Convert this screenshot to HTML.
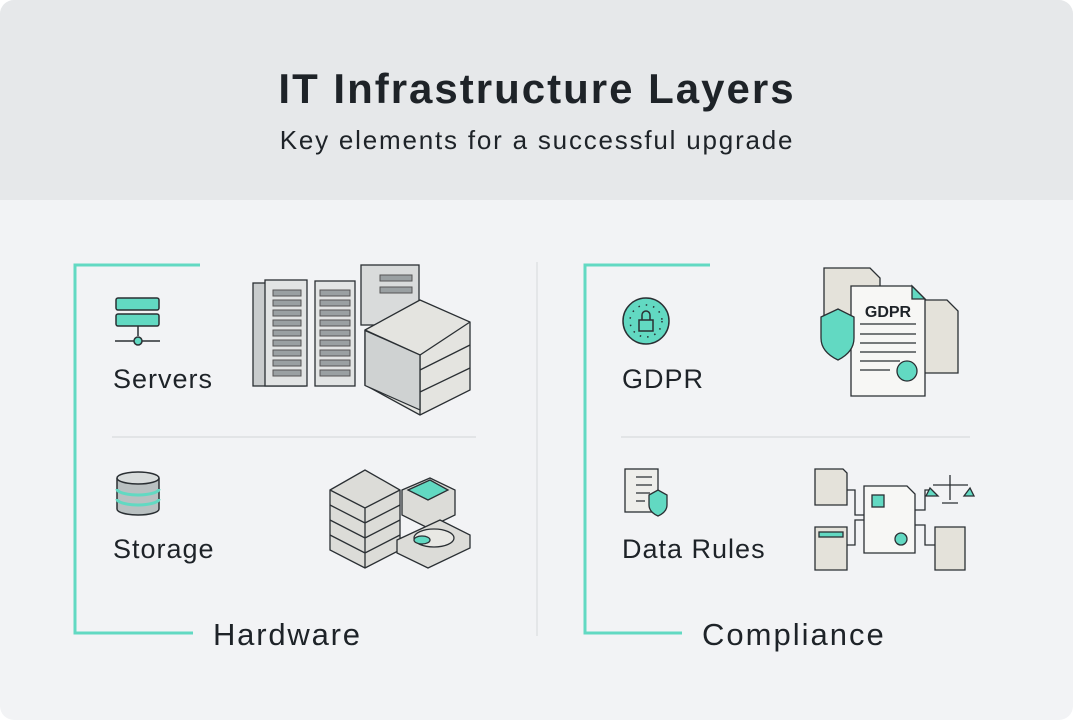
<!DOCTYPE html>
<html><head><meta charset="utf-8"><style>
html,body{margin:0;padding:0;background:#fff}
body{width:1073px;height:720px;overflow:hidden;font-family:"Liberation Sans",sans-serif}
</style></head><body>
<svg width="1073" height="720" viewBox="0 0 1073 720" xmlns="http://www.w3.org/2000/svg" font-family="Liberation Sans, sans-serif">
<defs><clipPath id="c"><rect width="1073" height="720" rx="14"/></clipPath></defs>
<g clip-path="url(#c)">
<rect width="1073" height="720" fill="#f2f3f5"/>
<rect width="1073" height="200" fill="#e6e8ea"/>
</g>
<text x="537" y="103" text-anchor="middle" font-size="42" font-weight="bold" letter-spacing="2" fill="#1e2328">IT Infrastructure Layers</text>
<text x="537" y="149" text-anchor="middle" font-size="26" letter-spacing="1.8" fill="#1e2328">Key elements for a successful upgrade</text>

<g stroke="#62d9c2" stroke-width="3" fill="none">
<path d="M200 265 H75 V633 H193"/>
<path d="M710 265 H585 V633 H682"/>
</g>
<line x1="537" y1="262" x2="537" y2="636" stroke="#dfe1e4" stroke-width="1.5"/>
<line x1="112" y1="437" x2="476" y2="437" stroke="#dcdfe2" stroke-width="1.5"/>
<line x1="621" y1="437" x2="970" y2="437" stroke="#dcdfe2" stroke-width="1.5"/>

<g font-size="27" fill="#1e2328" letter-spacing="1">
<text x="113" y="388">Servers</text>
<text x="113" y="558">Storage</text>
<text x="622" y="388">GDPR</text>
<text x="622" y="558">Data Rules</text>
</g>
<text x="213" y="645" font-size="31" letter-spacing="1.8" fill="#1e2328">Hardware</text>
<text x="702" y="645" font-size="31" letter-spacing="2" fill="#1e2328">Compliance</text>

<g stroke="#2a2f33" stroke-width="1.5">
<rect x="116" y="298" width="43" height="12" rx="2" fill="#62d9c2"/>
<rect x="116" y="314" width="43" height="12" rx="2" fill="#62d9c2"/>
<line x1="138" y1="326" x2="138" y2="336"/>
<line x1="115" y1="341" x2="160" y2="341"/>
<circle cx="138" cy="341" r="4" fill="#62d9c2"/>
</g>
<g stroke="#2a2f33" stroke-width="1.5">
<path d="M117 478 V509 A21 6 0 0 0 159 509 V478" fill="#b9c0c1"/>
<ellipse cx="138" cy="478" rx="21" ry="6" fill="#d8dcdc"/>
<path d="M117 489 A21 6 0 0 0 159 489 M117 499 A21 6 0 0 0 159 499" fill="none" stroke="#62d9c2" stroke-width="3"/>
</g>

<g stroke="#2a2f33" stroke-width="1.3">
<rect x="253" y="283" width="52" height="103" fill="#c9cccd"/>
<rect x="265" y="280" width="42" height="106" fill="#e2e4e4"/>
<rect x="315" y="281" width="40" height="105" fill="#e2e4e4"/>
<rect x="361" y="265" width="58" height="60" fill="#d9dbdb"/>
<path d="M365 330 L420 300 L470 322 L470 390 L420 415 L365 385 Z" fill="#e4e4e0"/>
<path d="M365 330 L420 355 L470 322 M420 355 V415 M420 370 L470 345 M420 392 L470 368" fill="none"/>
<rect x="365" y="330" width="55" height="55" fill="#cfd2d2" transform="skewY(24) translate(0,-162)"/>
</g>
<g stroke="#555" stroke-width="1" fill="#9aa0a2">
<rect x="273" y="290" width="28" height="6"/><rect x="273" y="300" width="28" height="6"/><rect x="273" y="310" width="28" height="6"/><rect x="273" y="320" width="28" height="6"/><rect x="273" y="330" width="28" height="6"/><rect x="273" y="340" width="28" height="6"/><rect x="273" y="350" width="28" height="6"/><rect x="273" y="360" width="28" height="6"/><rect x="273" y="370" width="28" height="6"/>
<rect x="320" y="290" width="30" height="6"/><rect x="320" y="300" width="30" height="6"/><rect x="320" y="310" width="30" height="6"/><rect x="320" y="320" width="30" height="6"/><rect x="320" y="330" width="30" height="6"/><rect x="320" y="340" width="30" height="6"/><rect x="320" y="350" width="30" height="6"/><rect x="320" y="360" width="30" height="6"/><rect x="320" y="370" width="30" height="6"/>
<rect x="380" y="275" width="32" height="6"/><rect x="380" y="287" width="32" height="6"/>
</g>

<g stroke="#2a2f33" stroke-width="1.3">
<path d="M330 490 L365 470 L400 490 V550 L365 568 L330 550 Z" fill="#dcdcd8"/>
<path d="M330 490 L365 508 L400 490 M365 508 V568 M330 505 L365 523 L400 505 M330 520 L365 538 L400 520 M330 535 L365 553 L400 535" fill="none"/>
<path d="M402 490 L430 478 L455 490 V515 L428 528 L402 515 Z" fill="#dcdcd8"/>
<path d="M408 490 L430 480 L448 490 L428 500 Z" fill="#62d9c2"/>
<path d="M397 540 L440 520 L470 535 V548 L428 568 L397 553 Z" fill="#dcdcd8"/>
<ellipse cx="434" cy="538" rx="20" ry="9" fill="#e8e8e4"/>
<ellipse cx="422" cy="540" rx="8" ry="4" fill="#62d9c2"/>
</g>

<circle cx="646" cy="321" r="23" fill="#62d9c2" stroke="#2a2f33" stroke-width="1.5"/>
<circle cx="646" cy="321" r="16" fill="none" stroke="#2a2f33" stroke-width="1.5" stroke-dasharray="1.5 6"/>
<rect x="639" y="320" width="14" height="11" fill="#62d9c2" stroke="#2a2f33" stroke-width="1.5"/>
<path d="M642 320 V315 A4 4 0 0 1 650 315 V320" fill="none" stroke="#2a2f33" stroke-width="1.5"/>

<g stroke="#2a2f33" stroke-width="1.3">
<path d="M824 268 H870 L880 278 V328 H824 Z" fill="#e4e2da"/>
<path d="M903 300 H947 L958 311 V373 H903 Z" fill="#e4e2da"/>
<path d="M851 286 H912 L925 299 V396 H851 Z" fill="#f7f7f5"/>
<path d="M912 286 L925 299 H912 Z" fill="#62d9c2"/>
<path d="M860 324 H916 M860 334 H916 M860 343 H916 M860 352 H916 M860 361 H900 M860 370 H890" fill="none"/>
<path d="M821 317 L838 309 L854 317 V338 Q854 352 838 360 Q821 352 821 338 Z" fill="#62d9c2"/>
<circle cx="907" cy="371" r="10" fill="#62d9c2"/>
</g>
<text x="888" y="317" text-anchor="middle" font-size="16" font-weight="bold" fill="#1e2328">GDPR</text>

<g stroke="#2a2f33" stroke-width="1.3">
<rect x="625" y="469" width="33" height="43" fill="#eeeeea"/>
<path d="M636 477 H652 M636 485 H652 M636 493 H650 M636 501 H645" fill="none"/>
<path d="M649 495 L658 490 L667 495 V505 Q667 512 658 516 Q649 512 649 505 Z" fill="#62d9c2"/>
</g>
<g stroke="#2a2f33" stroke-width="1.3">
<path d="M815 469 H843 L847 473 V505 H815 Z" fill="#e4e2da"/>
<path d="M815 527 H847 V570 H815 Z" fill="#e4e2da"/>
<rect x="819" y="532" width="24" height="5" fill="#62d9c2"/>
<path d="M864 486 H907 L915 494 V553 H864 Z" fill="#f7f7f5"/>
<rect x="872" y="495" width="12" height="12" fill="#62d9c2"/>
<circle cx="901" cy="539" r="6" fill="#62d9c2"/>
<path d="M935 527 H965 V570 H935 Z" fill="#e4e2da"/>
<path d="M847 490 H855 V515 H864 M847 545 H855 V520 H864 M915 510 H925 V490 H930 M915 525 H925 V545 H935" fill="none"/>
<path d="M933 485 H968 M950 475 V500 M942 503 H958" fill="none"/>
<path d="M930 488 L926 496 H938 Z M970 488 L964 496 H974 Z" fill="#62d9c2"/>
</g>
</svg>
</body></html>
